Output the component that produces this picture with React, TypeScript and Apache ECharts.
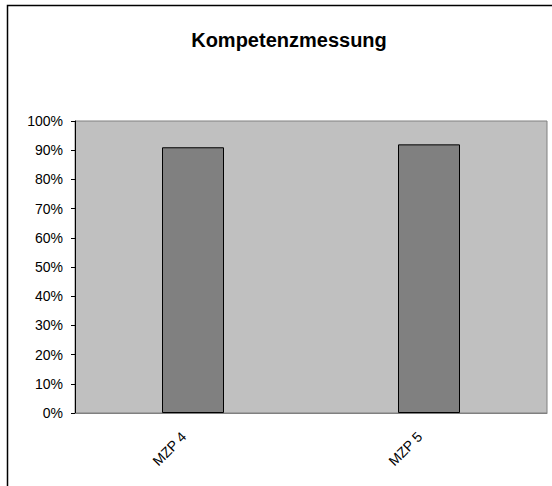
import React, { useEffect, useRef } from "react";
import * as echarts from "echarts";

const titleText = "Kompetenzmessung";
const categories = ["MZP 4", "MZP 5"];
const values = [0.91, 0.92];

export default function App() {
  const ref = useRef<HTMLDivElement>(null);
  useEffect(() => {
    if (!ref.current) return;
    const chart = echarts.init(ref.current, null, { renderer: "svg" });
    const font = "'Liberation Sans', Arial, sans-serif";
    chart.setOption({
      animation: false,
      backgroundColor: "#ffffff",
      title: {
        text: titleText,
        left: 284,
        top: 25,
        textAlign: "center",
        textStyle: { fontFamily: font, fontSize: 20, fontWeight: "bold", color: "#000" },
      },
      graphic: [
        {
          type: "rect",
          shape: { x: 7.5, y: 5.5, width: 700, height: 700 },
          style: { fill: "none", stroke: "#000", lineWidth: 1.5 },
          silent: true,
        },
      ],
      grid: {
        left: 75,
        top: 121,
        right: 5,
        bottom: 73,
        show: true,
        backgroundColor: "#C0C0C0",
        borderColor: "#808080",
        borderWidth: 1,
      },
      xAxis: {
        type: "category",
        data: categories,
        axisLine: { show: true, lineStyle: { color: "#808080", width: 1 } },
        axisTick: { show: false },
        axisLabel: {
          rotate: 45,
          margin: 12,
          padding: [0, 13, 0, 0],
          fontFamily: font,
          fontSize: 14,
          color: "#000",
        },
      },
      yAxis: {
        type: "value",
        min: 0,
        max: 1,
        interval: 0.1,
        axisLine: { show: true, lineStyle: { color: "#000", width: 1 } },
        axisTick: { show: true, length: 4, lineStyle: { color: "#000" } },
        splitLine: { show: false },
        axisLabel: {
          margin: 12,
          fontFamily: font,
          fontSize: 14,
          color: "#000",
          formatter: (v: number) => Math.round(v * 100) + "%",
        },
      },
      series: [
        {
          type: "bar",
          data: values,
          barWidth: 62,
          itemStyle: { color: "#808080", borderColor: "#000", borderWidth: 1 },
        },
      ],
    });
    return () => chart.dispose();
  }, []);
  return (
    <div
      ref={ref}
      style={{ position: "fixed", left: 0, top: 0, width: 552, height: 486 }}
    />
  );
}
